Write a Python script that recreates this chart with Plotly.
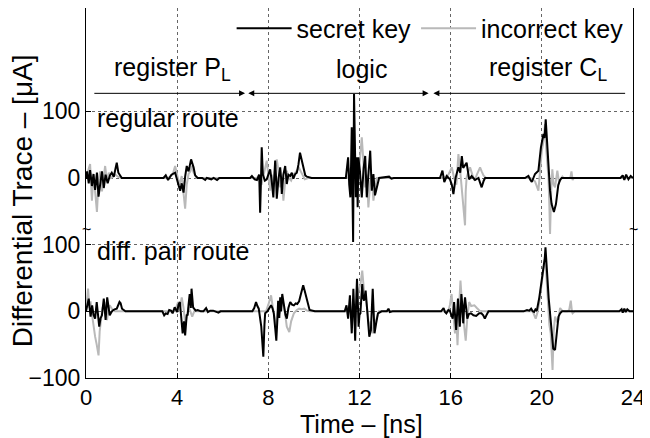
import plotly.graph_objects as go

# ---------------- data (values in uA, time in ns) ----------------
reg_secret_t = [0, 0.05, 0.12, 0.18, 0.26, 0.33, 0.40, 0.48, 0.55, 0.62, 0.70, 0.78, 0.86, 0.95, 1.05, 1.13, 1.22, 1.30, 1.35, 1.42, 1.57,
                3.4, 3.5, 3.6, 3.75, 3.91, 4.0, 4.13, 4.2, 4.28, 4.35, 4.42, 4.5, 4.61, 4.72, 4.79, 4.9, 5.1, 5.23, 5.3, 5.5, 5.6, 5.75, 5.85,
                7.2, 7.28, 7.4, 7.5, 7.6, 7.64, 7.68, 7.71, 7.76, 7.85, 7.93, 8.01, 8.08, 8.15, 8.22, 8.26, 8.30, 8.34, 8.37, 8.45, 8.52, 8.56,
                8.59, 8.66, 8.74, 8.81, 8.88, 8.96, 9.03, 9.1, 9.18, 9.25, 9.32, 9.39, 9.46, 9.54, 9.62, 9.69, 9.9,
                11.4, 11.5, 11.55, 11.6, 11.63, 11.66, 11.69, 11.72, 11.76, 11.8, 11.84, 11.88, 11.92, 11.95, 12.02, 12.1, 12.18, 12.25, 12.32,
                12.4, 12.47, 12.54, 12.61, 12.68, 12.76, 12.86, 13.3, 13.4, 13.5,
                15.53, 15.64, 15.72, 15.83, 15.97, 16.05, 16.12, 16.22, 16.34, 16.42, 16.49, 16.55, 16.6, 16.7, 16.81, 16.92, 17.07, 17.22, 17.3,
                17.36, 17.45, 17.51,
                19.26, 19.41, 19.5, 19.56, 19.63, 19.70, 19.85, 19.96, 20.07, 20.12, 20.17, 20.23, 20.29, 20.36, 20.43, 20.53, 20.62, 20.72, 20.8, 20.87,
                23.45, 23.55, 23.62, 23.7, 23.8, 23.9, 24]
reg_secret_v = [0, 10, -8, 12, -12, 6, -18, 8, -28, -10, 10, -15, 5, -8, 4, 8, 2, 15, 23, 8, 0,
                0, 4, -3, 5, 8, -3, -19, -8, -22, 2, 18, 10, 28, 16, 4, 0, 0, -3, 0, -2, 0, -3, 0,
                0, 3, -2, -3, 5, -52, 0, 46, 5, -4, -2, 6, 13, -5, -29, 0, 26, 0, -31, 0, 16, 0,
                -24, 5, 18, -9, 5, 3, 8, -1, 6, 8, 20, 38, 28, 13, 4, 2, 0,
                0, 31, -10, -29, 20, 76, -20, -96, 126, 10, -29, 31, -44, 31, 10, -29, 15, 33, -29,
                10, 41, -19, 6, -26, -14, 0, 2, -1, 0,
                0, 11, -6, 3, -2, -10, -24, 1, 16, 8, 33, 15, 18, 23, -2, 3, -3, 0, -8,
                -14, -4, 0,
                0, 3, -3, -6, 0, 6, 11, 46, 66, 60, 88, 51, 11, -19, -39, -51, -39, -11, -3, 0,
                0, 4, -3, 5, -2, 3, 0]

reg_incorrect_t = [0, 0.09, 0.18, 0.26, 0.33, 0.40, 0.48, 0.55, 0.62, 0.70, 0.78, 0.84, 0.92, 1.0, 1.1, 1.3, 1.4, 1.55,
                   3.6, 3.8, 3.91, 4.0, 4.1, 4.2, 4.28, 4.35, 4.42, 4.5, 4.58, 4.64, 4.72, 4.85,
                   7.5, 7.6, 7.7, 7.8, 7.93, 8.0, 8.08, 8.15, 8.22, 8.3, 8.37, 8.45, 8.52, 8.59, 8.66, 8.74, 8.81, 8.9, 9.0, 9.1, 9.25,
                   9.35, 9.45, 9.6, 9.75,
                   11.5, 11.6, 11.7, 11.8, 11.9, 12.0, 12.1, 12.18, 12.25, 12.32, 12.39, 12.47, 12.54, 12.61, 12.68, 12.76,
                   15.7, 15.9, 16.05, 16.15, 16.25, 16.34, 16.42, 16.49, 16.56, 16.63, 16.66, 16.7, 16.78, 16.85, 16.95, 17.05, 17.15,
                   17.29, 17.36, 17.44, 17.55,
                   19.5, 19.7, 19.85, 19.92, 20.0, 20.07, 20.14, 20.2, 20.29, 20.33, 20.36, 20.41, 20.46, 20.52, 20.58, 20.68, 20.75,
                   20.8, 20.9, 20.95, 21.25, 21.3, 21.35, 21.4, 24]
reg_incorrect_v = [0, 12, 21, -34, 5, -20, -51, -5, 10, -20, 5, 18, -5, 8, 0, 5, 2, 0,
                   0, 5, 18, 5, -10, 3, -20, -46, -10, 6, 10, 18, 8, 0,
                   0, 5, -10, 8, 26, 5, -19, 5, -10, 15, 28, 10, -14, 0, -34, -5, 11, 0, -4, 5, 11,
                   15, 8, -2, 0,
                   0, 15, -20, 30, -20, 20, 61, 20, -14, 5, -44, -5, 4, -34, -15, 0,
                   0, 5, 16, 0, -10, 36, 10, -19, -40, -71, -20, 1, 10, 16, 5, -4, 5,
                   16, 10, 4, 0,
                   0, -5, -19, 10, 41, 55, 81, 40, 1, -40, -84, -20, 13, -10, -14, 11, -5,
                   -4, 2, 0, 0, 10, -3, 0, 0]

diff_secret_t = [0, 0.05, 0.12, 0.2, 0.27, 0.33, 0.4, 0.47, 0.53, 0.58, 0.64, 0.7, 0.78, 0.86, 0.93, 1.0, 1.04, 1.1, 1.16, 1.25, 1.35,
                 1.47, 1.52, 1.58, 1.73,
                 3.35, 3.43, 3.5, 3.58, 3.65, 3.73, 3.8, 3.89, 4.0, 4.06, 4.12, 4.18, 4.24, 4.3, 4.35, 4.42, 4.46, 4.5, 4.55, 4.6, 4.63,
                 4.7, 4.81, 4.9, 5.04, 5.15, 5.27, 5.35, 5.45, 5.58, 5.7, 5.81, 5.9,
                 7.3, 7.38, 7.46, 7.52, 7.58, 7.69, 7.74, 7.78, 7.83, 7.86, 7.96, 8.05, 8.12, 8.18, 8.24, 8.3, 8.35, 8.4, 8.43, 8.48,
                 8.52, 8.56, 8.61, 8.66, 8.7, 8.75, 8.81, 8.88, 8.96, 9.04, 9.12, 9.2, 9.27, 9.35, 9.43, 9.53, 9.6, 9.66, 9.74, 9.81, 10.04,
                 11.35, 11.43, 11.5, 11.58, 11.62, 11.66, 11.7, 11.73, 11.77, 11.81, 11.85, 11.89, 11.93, 11.96, 12.0, 12.04, 12.08,
                 12.12, 12.16, 12.2, 12.27, 12.31, 12.35, 12.43, 12.5, 12.54, 12.58, 12.62, 12.66, 12.73, 12.81, 12.97, 13.2, 13.27,
                 13.33, 13.45, 13.65, 13.73, 13.8,
                 15.5, 15.58, 15.69, 15.75, 15.81, 15.9, 15.96, 16.02, 16.09, 16.15, 16.2, 16.24, 16.28, 16.32, 16.36, 16.4, 16.44,
                 16.47, 16.52, 16.55, 16.6, 16.63, 16.68, 16.73, 16.8, 16.89, 17.0, 17.12, 17.25, 17.35, 17.43, 17.5, 17.58, 17.66,
                 19.2, 19.35, 19.45, 19.53, 19.6, 19.66, 19.72, 19.78, 19.89, 20.0, 20.09, 20.13, 20.16, 20.2, 20.24, 20.3, 20.35,
                 20.43, 20.5, 20.58, 20.62, 20.66, 20.73, 20.8, 20.89,
                 23.4, 23.5, 23.55, 23.62, 23.68, 23.75, 23.85, 24]
diff_secret_v = [0, 8, 19, -8, 9, -5, -11, 14, -5, -23, -10, -6, 19, -13, 21, 0, -6, -2, 1, 3, 4,
                 14, 12, 4, 0,
                 0, -6, -3, -4, 2, 1, -3, 6, -1, 10, 14, -10, -33, -15, -36, -5, -6, 10, 26, 5, 34,
                 6, 1, 2, 0, 0, 5, -1, 1, 1, -1, -2, 0,
                 0, 5, 14, 8, 4, -23, -45, -68, -20, -3, 0, 5, 9, 5, -3, -25, -44, -10, 16, -10,
                 21, 0, 26, 15, 6, -5, -11, 5, 14, 10, 9, 12, 11, 15, 26, 39, 30, 21, 8, 2, 0,
                 0, 9, -11, 24, -5, -33, 0, 34, 0, -44, 10, 49, 10, -23, -5, -3, 20,
                 41, 20, 16, 31, 10, -8, -38, -28, 10, 34, 0, -33, -18, -3, 0, 0, 4,
                 -1, 0, 0, -1, 0,
                 0, 0, 5, -1, -3, 2, 1, -5, -11, 14, -5, -28, -5, 19, 0, -23, 0,
                 26, 5, -18, 10, 21, 5, -11, -4, -3, -6, -7, -3, -3, -6, -11, -5, 0,
                 0, 2, 1, 4, 0, -1, 3, 1, 21, 46, 66, 80, 96, 70, 56, 20, 1,
                 -28, -56, -58, -45, -28, -8, -3, 0,
                 0, 3, -2, 4, -1, 3, 0, 0]

diff_incorrect_t = [0, 0.04, 0.09, 0.15, 0.2, 0.24, 0.3, 0.35, 0.4, 0.47, 0.55, 0.6, 0.66, 0.72, 0.81, 0.86, 0.92, 0.98, 1.04, 1.15, 1.27,
                    3.9, 4.04, 4.1, 4.2, 4.28, 4.35, 4.42, 4.5, 4.58, 4.66, 4.75, 4.81,
                    7.9, 8.0, 8.12, 8.2, 8.28, 8.35, 8.42, 8.5, 8.58, 8.66, 8.74, 8.81, 8.92, 9.0, 9.12, 9.25, 9.35, 9.45, 9.58, 9.7, 9.81,
                    11.8, 11.9, 11.96, 12.04, 12.12, 12.2, 12.27, 12.35, 12.43, 12.5, 12.58, 12.66, 12.73, 12.85,
                    15.9, 15.97, 16.04, 16.12, 16.19, 16.25, 16.3, 16.36, 16.43, 16.5, 16.55, 16.6, 16.66, 16.73, 16.81, 16.9, 17.04,
                    17.15, 17.27, 17.4, 17.5,
                    19.6, 19.73, 19.8, 19.89, 19.96, 20.04, 20.1, 20.15, 20.2, 20.27, 20.33, 20.39, 20.47, 20.52, 20.58, 20.66, 20.73,
                    20.8, 20.89, 21.0, 21.12, 21.2, 21.27, 21.32, 21.35, 21.45, 24]
diff_incorrect_v = [0, 20, 34, 5, 15, 1, -15, -20, -38, -50, -66, -30, -8, 5, 14, 0, -13, 0, 9, 3, 0,
                    0, 14, 0, 21, 5, -18, -8, 6, 0, -8, 0, 0,
                    0, 10, 24, 5, -10, -23, 0, -3, 10, 11, -5, -23, -31, -15, -3, 2, 4, 3, 4, 1, 0,
                    0, 10, 31, 40, 61, 30, 21, 0, -28, -15, -33, -20, -11, 0,
                    0, 10, 26, 0, -33, -10, -51, 0, 46, 10, -3, -25, -44, -10, 14, 8, 9,
                    5, 1, 0, 0,
                    0, -11, -3, 14, 35, 61, 70, 81, 50, 21, -20, -33, -88, -30, -8, -15, -13,
                    5, 1, 0, 0, 2, 16, 0, -3, 0, 0]

upper_offset = 200  # regular route drawn above the diff. pair route

x_ticks = [0, 4, 8, 12, 16, 20, 24]
y_tickvals = [-100, 0, 100, 200, 300]
y_ticktext = ["\u2212100", "0", "100", "0", "100"]

black = "#000000"
gray = "#b9b9b9"
FONT = "Liberation Sans, Arial, sans-serif"
TXT = 25

fig = go.Figure()

# gray traces first (underneath)
fig.add_trace(go.Scatter(x=reg_incorrect_t, y=[v + upper_offset for v in reg_incorrect_v], mode="lines",
                         line=dict(color=gray, width=2), name="incorrect key", legendgroup="inc",
                         showlegend=True, legendrank=2))
fig.add_trace(go.Scatter(x=diff_incorrect_t, y=diff_incorrect_v, mode="lines",
                         line=dict(color=gray, width=2), name="incorrect key", legendgroup="inc",
                         showlegend=False))
fig.add_trace(go.Scatter(x=reg_secret_t, y=[v + upper_offset for v in reg_secret_v], mode="lines",
                         line=dict(color=black, width=2), name="secret key", legendgroup="sec",
                         showlegend=True, legendrank=1))
fig.add_trace(go.Scatter(x=diff_secret_t, y=diff_secret_v, mode="lines",
                         line=dict(color=black, width=2), name="secret key", legendgroup="sec",
                         showlegend=False))

ann = []
txt = dict(font=dict(family=FONT, size=TXT, color="black"), showarrow=False)
ann.append(dict(x=3.78, y=363, xref="x", yref="y", text="register P<sub>L</sub>", xanchor="center", yanchor="middle", **txt))
ann.append(dict(x=12.1, y=363, xref="x", yref="y", text="logic", xanchor="center", yanchor="middle", **txt))
ann.append(dict(x=20.27, y=363, xref="x", yref="y", text="register C<sub>L</sub>", xanchor="center", yanchor="middle", **txt))
ann.append(dict(x=0.4, y=290, xref="x", yref="y", text="regular route", xanchor="left", yanchor="middle", **txt))
ann.append(dict(x=0.4, y=90, xref="x", yref="y", text="diff. pair route", xanchor="left", yanchor="middle", **txt))
# axis titles
ann.append(dict(x=0.503, y=-0.124, xref="paper", yref="paper", text="Time \u2013 [ns]",
                xanchor="center", yanchor="middle", **txt))
ann.append(dict(x=-0.117, y=0.478, xref="paper", yref="paper", text="Differential Trace \u2013 [\u03bcA]",
                xanchor="center", yanchor="middle", textangle=-90, showarrow=False,
                font=dict(family=FONT, size=28, color="black")))
# axis-break marks
for xb in (0, 24):
    ann.append(dict(x=xb, y=123, xref="x", yref="y", text="~", xanchor="center", yanchor="middle",
                    showarrow=False, font=dict(family=FONT, size=16, color="black")))

# section arrows
arr = dict(xref="x", yref="y", axref="x", ayref="y", text="", showarrow=True,
           arrowcolor="black", arrowwidth=1, arrowsize=1.2, arrowhead=2)
ann.append(dict(x=6.98, y=327, ax=0.3, ay=327, **arr))
ann.append(dict(x=7.12, y=327, ax=15.1, ay=327, arrowside="end+start", **arr))
ann.append(dict(x=15.24, y=327, ax=23.72, ay=327, **arr))

# the page body adds an 8px offset; the figure is sized so the plot lands where the reference has it
fig.update_layout(
    width=642, height=430,
    margin=dict(l=78, r=17, t=0, b=60, autoexpand=False),
    paper_bgcolor="white", plot_bgcolor="white",
    font=dict(family=FONT, size=23, color="black"),
    showlegend=True,
    legend=dict(orientation="h", x=0.992, xanchor="right", y=1.007, yanchor="top",
                bgcolor="rgba(0,0,0,0)", font=dict(size=TXT), itemwidth=55, tracegroupgap=0),
    annotations=ann,
    xaxis=dict(range=[0, 24], tickvals=x_ticks, ticks="inside", ticklen=5, tickcolor="black",
               showline=True, linecolor="black", linewidth=1, mirror=True, automargin=False,
               showgrid=True, gridcolor="#666666", griddash="dot", gridwidth=1, zeroline=False,
               tickfont=dict(size=22)),
    yaxis=dict(range=[-100, 455], tickvals=y_tickvals, ticktext=y_ticktext, ticks="inside", ticklen=5,
               tickcolor="black", showline=True, linecolor="black", linewidth=1, mirror=True, automargin=False,
               showgrid=True, gridcolor="#666666", griddash="dot", gridwidth=1, zeroline=False,
               tickfont=dict(size=23)),
)

fig.write_html("out.html")
